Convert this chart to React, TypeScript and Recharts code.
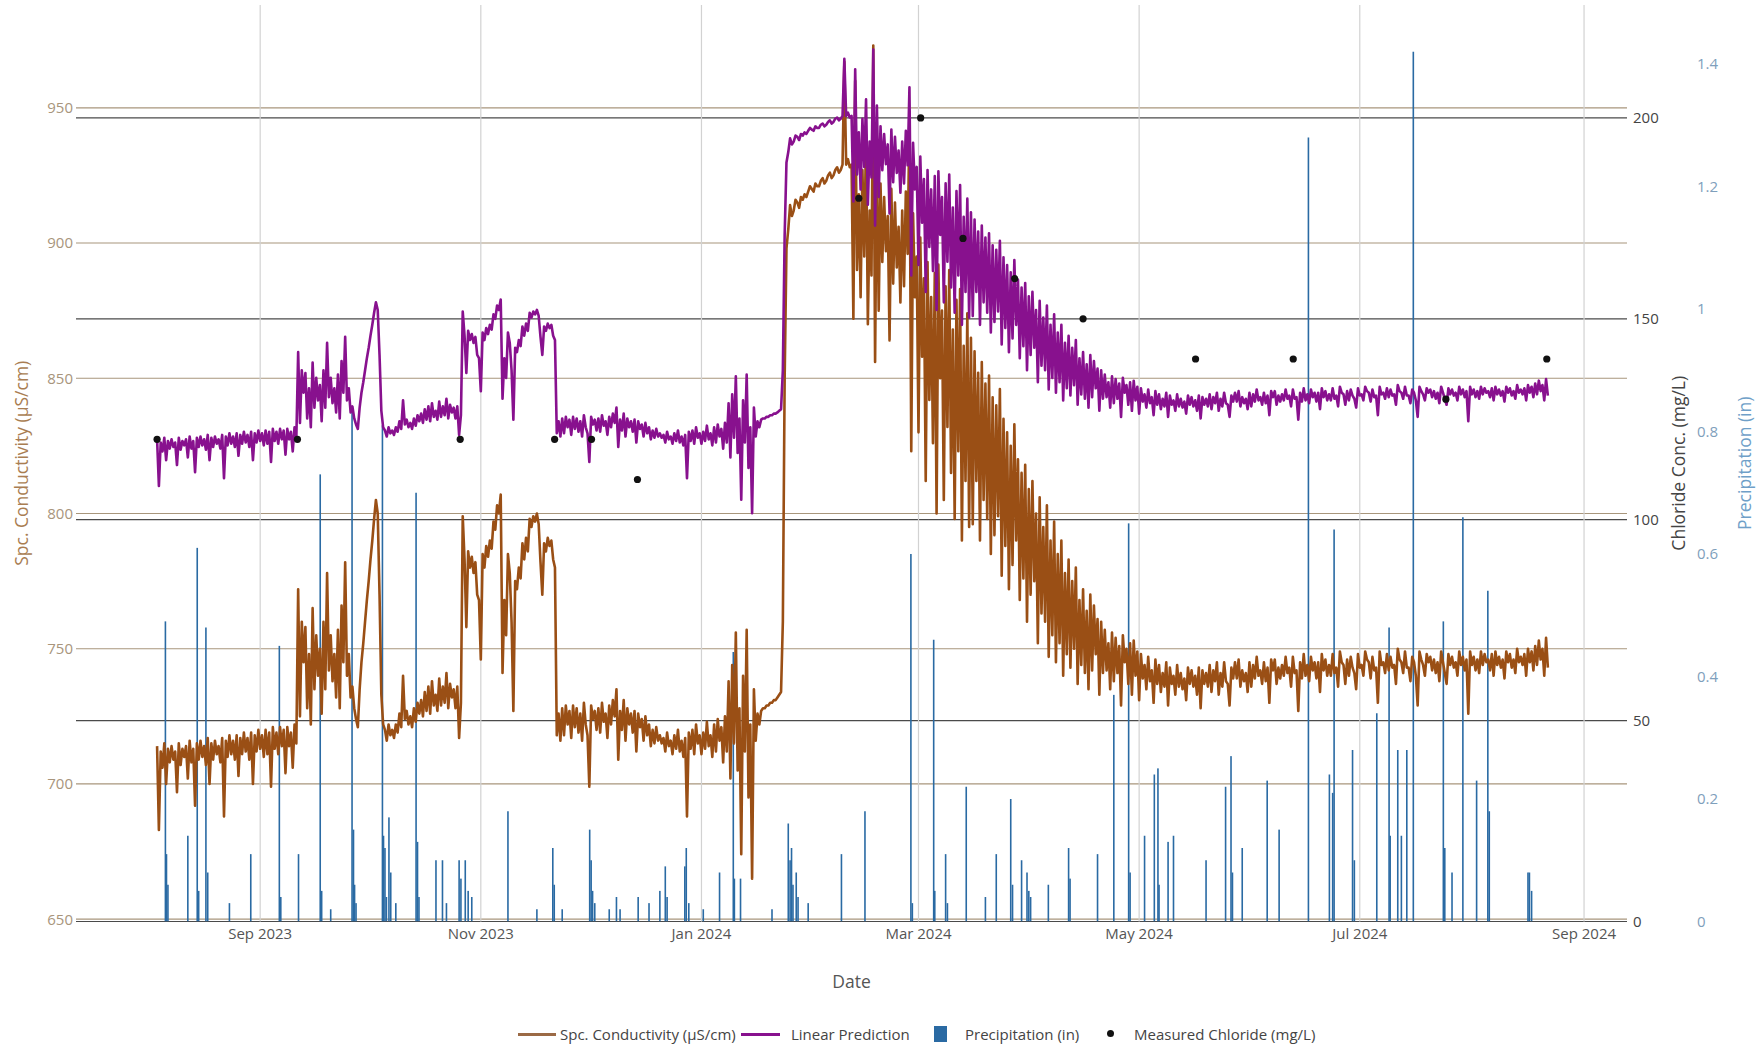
import React from "react";
import {
  Bar,
  CartesianGrid,
  ComposedChart,
  Label,
  Line,
  Scatter,
  XAxis,
  YAxis,
} from "recharts";

const DAY_MS = 24 * 60 * 60 * 1000;
// logger series: two readings a day (daily high, then low), first one at noon on 3 Aug 2023
const seriesStart = Date.UTC(2023, 7, 3, 12);
const readingsPerDay = 2;

// Spc. conductivity (µS/cm)
const conductivity = [
  714, 683, 712, 706, 715, 700, 713, 708, 714, 709, 712, 697, 715, 707, 713, 710, 714, 702, 716, 708,
  713, 692, 715, 709, 716, 710, 714, 707, 717, 700, 715, 709, 716, 711, 714, 708, 717, 688, 716, 710,
  718, 711, 716, 709, 718, 703, 717, 711, 719, 712, 717, 709, 719, 700, 718, 712, 720, 713, 718, 710,
  720, 711, 719, 699, 721, 713, 719, 711, 721, 714, 720, 704, 721, 714, 719, 706, 722, 715, 772, 725,
  760, 745, 758, 728, 748, 722, 765, 735, 755, 740, 750, 726, 760, 735, 778, 742, 755, 738, 748, 732,
  757, 728, 766, 745, 782, 740, 748, 732, 736, 728, 724, 721, 735, 745, 752, 760, 768, 775, 783, 790,
  798, 805, 800, 770, 733, 722, 720, 716, 722, 718, 720, 717, 722, 719, 726, 721, 740, 724, 727, 722,
  725, 721, 728, 723, 730, 726, 731, 725, 734, 727, 736, 726, 738, 729, 733, 727, 739, 729, 736, 730,
  741, 728, 737, 732, 735, 728, 736, 717, 730, 799, 783, 758, 786, 780, 784, 778, 782, 770, 768, 746,
  785, 780, 788, 784, 790, 787, 797, 794, 803, 800, 807, 741, 768, 755, 785, 778, 760, 727, 775, 772,
  780, 776, 789, 783, 791, 786, 798, 795, 799, 797, 800, 796, 782, 770, 789, 786, 791, 788, 790, 783,
  780, 718, 726, 716, 728, 718, 729, 722, 727, 717, 729, 721, 728, 719, 726, 716, 730, 722, 718, 699,
  729, 724, 727, 720, 728, 719, 730, 723, 726, 717, 729, 722, 731, 725, 735, 709, 727, 720, 731, 716,
  728, 722, 726, 719, 727, 712, 726, 721, 724, 716, 725, 718, 722, 714, 720, 715, 721, 716, 718, 715,
  717, 712, 719, 714, 716, 711, 718, 713, 720, 712, 716, 710, 717, 688, 719, 713, 720, 711, 722, 715,
  718, 711, 719, 713, 723, 714, 718, 710, 722, 712, 724, 716, 721, 708, 725, 712, 738, 702, 744, 715,
  756, 705, 728, 674, 740, 712, 757, 695, 722, 665, 735, 716, 726, 722, 727, 728, 728, 729, 729, 730,
  730, 731, 731, 732, 733, 734, 760, 850, 898, 905, 914, 910, 912, 916, 915, 913, 917, 916, 918, 917,
  919, 921, 920, 919, 922, 921, 921, 923, 924, 922, 923, 925, 926, 924, 925, 927, 928, 926, 927, 929,
  967, 929, 931, 928, 929, 872, 960, 890, 918, 880, 927, 895, 940, 870, 912, 888, 973, 856, 936, 875,
  922, 893, 917, 897, 910, 864, 920, 885, 915, 891, 906, 878, 912, 884, 919, 896, 948, 823, 911, 880,
  895, 830, 902, 858, 887, 812, 893, 842, 880, 826, 889, 800, 892, 850, 875, 805, 884, 832, 890, 815,
  868, 798, 879, 823, 883, 790, 862, 812, 874, 795, 865, 796, 860, 812, 852, 790, 856, 805, 848, 798,
  851, 785, 843, 792, 840, 799, 846, 777, 835, 788, 830, 772, 825, 781, 833, 790, 820, 768, 815, 776,
  818, 760, 809, 770, 812, 775, 800, 752, 806, 763, 795, 760, 803, 747, 790, 755, 797, 745, 785, 752,
  790, 740, 778, 748, 783, 743, 775, 750, 780, 737, 768, 744, 772, 741, 764, 735, 770, 742, 766, 748,
  761, 733, 760, 741, 757, 742, 752, 735, 756, 738, 754, 741, 751, 729, 755, 745, 750, 737, 752, 733,
  753, 740, 749, 731, 748, 739, 744, 735, 747, 738, 742, 730, 746, 737, 744, 734, 741, 736, 745, 729,
  743, 737, 740, 733, 744, 736, 741, 735, 739, 731, 743, 737, 742, 736, 740, 733, 743, 728, 742, 737,
  741, 736, 744, 734, 742, 738, 745, 733, 741, 736, 745, 738, 737, 729, 743, 739, 745, 739, 746, 736,
  742, 738, 741, 734, 745, 736, 744, 739, 747, 740, 742, 737, 745, 738, 743, 730, 746, 742, 746, 737,
  743, 739, 744, 740, 747, 741, 743, 736, 747, 741, 742, 727, 745, 739, 748, 740, 744, 738, 747, 742,
  745, 739, 745, 734, 748, 742, 746, 740, 744, 740, 748, 741, 743, 736, 749, 745, 744, 737, 746, 740,
  747, 743, 741, 735, 748, 743, 744, 740, 749, 746, 745, 739, 747, 742, 743, 730, 749, 744, 745, 741,
  748, 742, 747, 743, 744, 737, 750, 746, 745, 741, 749, 743, 743, 738, 747, 745, 740, 729, 749, 746,
  744, 740, 748, 745, 747, 742, 746, 741, 745, 738, 749, 745, 741, 737, 748, 744, 747, 743, 745, 740,
  749, 744, 747, 742, 746, 726, 749, 744, 747, 742, 746, 741, 749, 744, 748, 745, 746, 742, 748, 740,
  749, 744, 747, 743, 746, 739, 749, 745, 748, 743, 746, 741, 750, 745, 747, 744, 748, 740, 750, 745,
  749, 742, 751, 744, 753, 746, 750, 740, 754, 743,
];

// Linear prediction of chloride (mg/L)
const linearPrediction = [
  120.0, 108.4, 119.2, 117.0, 120.4, 114.8, 119.6, 117.7, 120.0, 118.1, 119.2, 113.6, 120.4, 117.4, 119.6, 118.5, 120.0, 115.5, 120.7, 117.7,
  119.6, 111.8, 120.4, 118.1, 120.7, 118.5, 120.0, 117.4, 121.1, 114.8, 120.4, 118.1, 120.7, 118.9, 120.0, 117.7, 121.1, 110.3, 120.7, 118.5,
  121.5, 118.9, 120.7, 118.1, 121.5, 115.9, 121.1, 118.9, 121.9, 119.2, 121.1, 118.1, 121.9, 114.8, 121.5, 119.2, 122.2, 119.6, 121.5, 118.5,
  122.2, 118.9, 121.9, 114.4, 122.6, 119.6, 121.9, 118.9, 122.6, 120.0, 122.2, 116.2, 122.6, 120.0, 121.9, 117.0, 123.0, 120.4, 141.7, 124.1,
  137.2, 131.6, 136.5, 125.2, 132.7, 123.0, 139.1, 127.9, 135.3, 129.7, 133.5, 124.5, 137.2, 127.9, 144.0, 130.5, 135.3, 129.0, 132.7, 126.7,
  136.1, 125.2, 139.5, 131.6, 145.5, 129.7, 132.7, 126.7, 128.2, 125.2, 123.7, 122.6, 127.9, 131.6, 134.2, 137.2, 140.2, 142.8, 145.8, 148.5,
  151.5, 154.1, 152.2, 141.0, 127.1, 123.0, 122.2, 120.7, 123.0, 121.5, 122.2, 121.1, 123.0, 121.9, 124.5, 122.6, 129.7, 123.7, 124.9, 123.0,
  124.1, 122.6, 125.2, 123.4, 126.0, 124.5, 126.4, 124.1, 127.5, 124.9, 128.2, 124.5, 129.0, 125.6, 127.1, 124.9, 129.4, 125.6, 128.2, 126.0,
  130.1, 125.2, 128.6, 126.7, 127.9, 125.2, 128.2, 121.1, 126.0, 151.8, 145.8, 136.5, 147.0, 144.7, 146.2, 144.0, 145.5, 141.0, 140.2, 132.0,
  146.6, 144.7, 147.7, 146.2, 148.5, 147.3, 151.1, 150.0, 153.3, 152.2, 154.8, 130.1, 140.2, 135.3, 146.6, 144.0, 137.2, 124.9, 142.8, 141.7,
  144.7, 143.2, 148.1, 145.8, 148.8, 147.0, 151.5, 150.3, 151.8, 151.1, 152.2, 150.7, 145.5, 141.0, 148.1, 147.0, 148.8, 147.7, 148.5, 145.8,
  144.7, 121.5, 124.5, 120.7, 125.2, 121.5, 125.6, 123.0, 124.9, 121.1, 125.6, 122.6, 125.2, 121.9, 124.5, 120.7, 126.0, 123.0, 121.5, 114.4,
  125.6, 123.7, 124.9, 122.2, 125.2, 121.9, 126.0, 123.4, 124.5, 121.1, 125.6, 123.0, 126.4, 124.1, 127.9, 118.1, 124.9, 122.2, 126.4, 120.7,
  125.2, 123.0, 124.5, 121.9, 124.9, 119.2, 124.5, 122.6, 123.7, 120.7, 124.1, 121.5, 123.0, 120.0, 122.2, 120.4, 122.6, 120.7, 121.5, 120.4,
  121.1, 119.2, 121.9, 120.0, 120.7, 118.9, 121.5, 119.6, 122.2, 119.2, 120.7, 118.5, 121.1, 110.3, 121.9, 119.6, 122.2, 118.9, 123.0, 120.4,
  121.5, 118.9, 121.9, 119.6, 123.4, 120.0, 121.5, 118.5, 123.0, 119.2, 123.7, 120.7, 122.6, 117.7, 124.1, 119.2, 129.0, 115.5, 131.2, 120.4,
  135.7, 116.6, 125.2, 105.0, 129.7, 119.2, 136.1, 112.9, 123.0, 101.6, 127.9, 120.7, 124.5, 123.0, 124.9, 125.2, 125.2, 125.6, 125.6, 126.0,
  126.0, 126.4, 126.4, 126.7, 127.1, 127.5, 137.2, 170.9, 188.9, 191.5, 194.9, 193.4, 194.1, 195.6, 195.3, 194.5, 196.0, 195.6, 196.4, 196.0,
  196.8, 197.5, 197.1, 196.8, 197.9, 197.5, 197.5, 198.3, 198.6, 197.9, 198.3, 199.0, 199.4, 198.6, 199.0, 199.8, 200.1, 199.4, 199.8, 200.5,
  214.7, 200.5, 201.3, 200.1, 200.5, 179.2, 212.1, 185.9, 196.4, 182.2, 199.8, 187.8, 204.6, 178.4, 194.1, 185.2, 217.0, 173.2, 203.1, 180.3,
  197.9, 187.0, 196.0, 188.5, 193.4, 176.2, 197.1, 184.0, 195.3, 186.3, 191.9, 181.4, 194.1, 183.7, 196.8, 188.2, 207.6, 160.8, 193.8, 182.2,
  187.8, 163.4, 190.4, 173.9, 184.8, 156.7, 187.0, 167.9, 182.2, 161.9, 185.5, 152.2, 186.7, 170.9, 180.3, 154.1, 183.7, 164.2, 185.9, 157.8,
  177.7, 151.5, 181.8, 160.8, 183.3, 148.5, 175.4, 156.7, 179.9, 150.3, 176.5, 150.7, 174.7, 156.7, 171.7, 148.5, 173.2, 154.1, 170.2, 151.5,
  171.3, 146.6, 168.3, 149.2, 167.2, 151.8, 169.4, 143.6, 165.3, 147.7, 163.4, 141.7, 161.6, 145.1, 164.6, 148.5, 159.7, 140.2, 157.8, 143.2,
  158.9, 137.2, 155.6, 141.0, 156.7, 142.8, 152.2, 134.2, 154.5, 138.3, 150.3, 137.2, 153.3, 132.4, 148.5, 135.3, 151.1, 131.6, 146.6, 134.2,
  148.5, 129.7, 144.0, 132.7, 145.8, 130.9, 142.8, 133.5, 144.7, 128.6, 140.2, 131.2, 141.7, 130.1, 138.7, 127.9, 141.0, 130.5, 139.5, 132.7,
  137.6, 127.1, 137.2, 130.1, 136.1, 130.5, 134.2, 127.9, 135.7, 129.0, 135.0, 130.1, 133.9, 125.6, 135.3, 131.6, 133.5, 128.6, 134.2, 127.1,
  134.6, 129.7, 133.1, 126.4, 132.7, 129.4, 131.2, 127.9, 132.4, 129.0, 130.5, 126.0, 132.0, 128.6, 131.2, 127.5, 130.1, 128.2, 131.6, 125.6,
  130.9, 128.6, 129.7, 127.1, 131.2, 128.2, 130.1, 127.9, 129.4, 126.4, 130.9, 128.6, 130.5, 128.2, 129.7, 127.1, 130.9, 125.2, 130.5, 128.6,
  130.1, 128.2, 131.2, 127.5, 130.5, 129.0, 131.6, 127.1, 130.1, 128.2, 131.6, 129.0, 128.6, 125.6, 130.9, 129.4, 131.6, 129.4, 132.0, 128.2,
  130.5, 129.0, 130.1, 127.5, 131.6, 128.2, 131.2, 129.4, 132.4, 129.7, 130.5, 128.6, 131.6, 129.0, 130.9, 126.0, 132.0, 130.5, 132.0, 128.6,
  130.9, 129.4, 131.2, 129.7, 132.4, 130.1, 130.9, 128.2, 132.4, 130.1, 130.5, 124.9, 131.6, 129.4, 132.7, 129.7, 131.2, 129.0, 132.4, 130.5,
  131.6, 129.4, 131.6, 127.5, 132.7, 130.5, 132.0, 129.7, 131.2, 129.7, 132.7, 130.1, 130.9, 128.2, 133.1, 131.6, 131.2, 128.6, 132.0, 129.7,
  132.4, 130.9, 130.1, 127.9, 132.7, 130.9, 131.2, 129.7, 133.1, 132.0, 131.6, 129.4, 132.4, 130.5, 130.9, 126.0, 133.1, 131.2, 131.6, 130.1,
  132.7, 130.5, 132.4, 130.9, 131.2, 128.6, 133.5, 132.0, 131.6, 130.1, 133.1, 130.9, 130.9, 129.0, 132.4, 131.6, 129.7, 125.6, 133.1, 132.0,
  131.2, 129.7, 132.7, 131.6, 132.4, 130.5, 132.0, 130.1, 131.6, 129.0, 133.1, 131.6, 130.1, 128.6, 132.7, 131.2, 132.4, 130.9, 131.6, 129.7,
  133.1, 131.2, 132.4, 130.5, 132.0, 124.5, 133.1, 131.2, 132.4, 130.5, 132.0, 130.1, 133.1, 131.2, 132.7, 131.6, 132.0, 130.5, 132.7, 129.7,
  133.1, 131.2, 132.4, 130.9, 132.0, 129.4, 133.1, 131.6, 132.7, 130.9, 132.0, 130.1, 133.5, 131.6, 132.4, 131.2, 132.7, 129.7, 133.5, 131.6,
  133.1, 130.5, 133.9, 131.2, 134.6, 132.0, 133.5, 129.7, 135.0, 130.9,
];

// lab samples: days after series start, chloride (mg/L)
const chlorideDay = [0, 38.8, 83.8, 109.9, 120.1, 132.8, 194, 211.1, 222.8, 237.1, 256, 287.1, 314.1, 356.3, 384.2];
const measuredChloride = [120, 120, 120, 120, 120, 110, 180, 200, 170, 160, 150, 140, 140, 130, 140];

// rainfall events: days after series start, inches
const precipDay = [
  2.3, 2.6, 3.0, 8.5, 11.1, 11.5, 13.5, 14.0, 20.0, 25.9, 33.8, 34.2, 39.1, 45.1, 45.5, 48.0, 53.9, 54.3, 54.6, 55.0,
  62.3, 62.6, 63.0, 63.4, 64.1, 64.6, 66.0, 71.6, 72.0, 72.4, 77.1, 78.9, 80.0, 83.5, 84.0, 85.2, 86.0, 87.0, 97.0, 105.0,
  109.4, 109.8, 112.0, 119.6, 120.0, 120.4, 121.0, 125.0, 127.0, 128.0, 133.0, 136.0, 139.0, 140.5, 141.0, 145.9, 146.3, 147.0, 151.0, 155.5,
  159.3, 159.6, 161.3, 170.0, 174.5, 175.0, 175.4, 175.8, 176.7, 177.2, 180.0, 189.2, 195.7, 208.4, 208.8, 214.7, 215.0, 218.0, 218.5, 223.7,
  229.0, 232.0, 236.0, 236.5, 239.0, 240.5, 241.0, 241.5, 246.4, 252.0, 252.4, 260.0, 264.5, 268.6, 269.0, 273.0, 275.7, 276.7, 277.0, 279.5,
  281.0, 290.0, 295.4, 296.9, 297.3, 300.0, 306.9, 310.2, 318.3, 324.1, 325.0, 325.4, 330.5, 331.0, 337.2, 340.6, 340.9, 343.0, 344.0, 345.5,
  347.3, 355.6, 356.0, 358.0, 361.0, 364.8, 367.9, 368.3, 379.0, 379.4, 380.0,
];
const precipInches = [
  0.49, 0.11, 0.06, 0.14, 0.61, 0.05, 0.48, 0.08, 0.03, 0.11, 0.45, 0.04, 0.11, 0.73, 0.05, 0.02, 0.84, 0.15, 0.06, 0.03,
  0.81, 0.14, 0.12, 0.04, 0.17, 0.08, 0.03, 0.70, 0.13, 0.04, 0.10, 0.10, 0.03, 0.10, 0.07, 0.10, 0.05, 0.04, 0.18, 0.02,
  0.12, 0.06, 0.02, 0.15, 0.10, 0.05, 0.03, 0.02, 0.04, 0.02, 0.04, 0.03, 0.05, 0.09, 0.04, 0.09, 0.12, 0.03, 0.02, 0.08,
  0.44, 0.07, 0.07, 0.02, 0.16, 0.10, 0.12, 0.06, 0.08, 0.04, 0.03, 0.11, 0.18, 0.60, 0.03, 0.46, 0.05, 0.11, 0.03, 0.22,
  0.04, 0.11, 0.20, 0.06, 0.10, 0.08, 0.05, 0.04, 0.06, 0.12, 0.07, 0.11, 0.37, 0.65, 0.08, 0.14, 0.24, 0.25, 0.06, 0.13,
  0.14, 0.10, 0.22, 0.27, 0.08, 0.12, 0.23, 0.15, 1.28, 0.24, 0.21, 0.64, 0.28, 0.10, 0.34, 0.48, 0.14, 0.28, 0.14, 0.28,
  1.42, 0.49, 0.12, 0.08, 0.66, 0.23, 0.54, 0.18, 0.08, 0.08, 0.05,
];

const monthTickDates = ["2023-09-01", "2023-11-01", "2024-01-01", "2024-03-01", "2024-05-01", "2024-07-01", "2024-09-01"];
const monthTickLabels = ["Sep 2023", "Nov 2023", "Jan 2024", "Mar 2024", "May 2024", "Jul 2024", "Sep 2024"];
const conductivityTicks = [650, 700, 750, 800, 850, 900, 950];
const chlorideTicks = [0, 50, 100, 150, 200];
const precipTicks = [0, 0.2, 0.4, 0.6, 0.8, 1, 1.2, 1.4];

const toTime = (day: number) => seriesStart + day * DAY_MS;

const condRows = conductivity.map((v, i) => ({ t: toTime(i / readingsPerDay), v }));
const predRows = linearPrediction.map((v, i) => ({ t: toTime(i / readingsPerDay), v }));
const chlorideRows = chlorideDay.map((d, i) => ({ t: toTime(d), v: measuredChloride[i] }));
const precipRows = precipDay.map((d, i) => ({ t: toTime(d), p: precipInches[i] }));
const monthTicks = monthTickDates.map((s) => Date.parse(s + "T00:00:00Z"));

const xDomain = [Date.UTC(2023, 6, 12, 2), Date.UTC(2024, 8, 12, 21)];

const BROWN = "#9a4f15";
const PURPLE = "#88118e";
const BLUE = "#2a6aa3";
const FONT = "'Open Sans', sans-serif";

const blackDot = (props: any) => <circle cx={props.cx} cy={props.cy} r={3.6} fill="#111" />;

// thin precipitation bar centred on its timestamp
const rainBar = (props: any) => {
  if (!props.height) return <g />;
  return <rect x={props.x + props.width / 2 - 0.8} y={props.y} width={1.6} height={props.height} fill={BLUE} />;
};

function LegendRow() {
  const text: React.CSSProperties = { position: "absolute", top: 1024, fontSize: 15, color: "#444", whiteSpace: "nowrap", lineHeight: "20px" };
  return (
    <>
      <div style={{ position: "absolute", left: 518, top: 1033, width: 38, height: 3, background: "#9b6a45" }} />
      <div style={{ ...text, left: 560 }}>Spc. Conductivity (µS/cm)</div>
      <div style={{ position: "absolute", left: 741, top: 1033, width: 39, height: 3, background: PURPLE }} />
      <div style={{ ...text, left: 791 }}>Linear Prediction</div>
      <div style={{ position: "absolute", left: 934, top: 1026, width: 13, height: 16, background: BLUE }} />
      <div style={{ ...text, left: 965 }}>Precipitation (in)</div>
      <div style={{ position: "absolute", left: 1107, top: 1030, width: 7, height: 7, borderRadius: 4, background: "#111" }} />
      <div style={{ ...text, left: 1134 }}>Measured Chloride (mg/L)</div>
    </>
  );
}

export default function App() {
  return (
    <div style={{ position: "absolute", left: 0, top: 0, width: 1760, height: 1047, background: "#fff", fontFamily: FONT }}>
      <ComposedChart width={1760} height={1047} data={precipRows} margin={{ top: 5, right: 0, bottom: 0, left: 0 }}>
        <CartesianGrid yAxisId="cond" vertical={false} syncWithTicks stroke="#a8967c" strokeWidth={1.2} />
        <CartesianGrid yAxisId="chl" vertical={false} syncWithTicks stroke="#4a4a4a" strokeWidth={1.2} />
        <CartesianGrid yAxisId="chl" horizontal={false} syncWithTicks stroke="#d2d2d2" strokeWidth={1.2} />
        <XAxis
          dataKey="t"
          type="number"
          domain={xDomain}
          allowDataOverflow
          ticks={monthTicks}
          interval={0}
          tickFormatter={(t: number) => monthTickLabels[monthTicks.indexOf(t)]}
          axisLine={false}
          tickLine={false}
          tickSize={0}
          tickMargin={7}
          height={125.5}
          tick={{ fill: "#555", fontSize: 15, fontFamily: FONT }}
        >
          <Label value="Date" position="insideBottom" offset={59} fill="#555" fontSize={17.5} fontFamily={FONT} />
        </XAxis>
        <YAxis
          yAxisId="cond"
          orientation="left"
          type="number"
          width={76}
          domain={[649.15, 988]}
          allowDataOverflow
          ticks={conductivityTicks}
          interval={0}
          axisLine={false}
          tickLine={false}
          tickSize={0}
          tickMargin={3}
          tick={{ fill: "#a8957c", fontSize: 15, fontFamily: FONT }}
        >
          <Label
            value="Spc. Conductivity (µS/cm)"
            angle={-90}
            position="insideLeft"
            offset={22}
            style={{ textAnchor: "middle" }}
            fill="#a97d52"
            fontSize={17.5}
            fontFamily={FONT}
          />
        </YAxis>
        <YAxis
          yAxisId="chl"
          orientation="right"
          type="number"
          width={58}
          domain={[0, 228.1]}
          allowDataOverflow
          ticks={chlorideTicks}
          interval={0}
          axisLine={false}
          tickLine={false}
          tickSize={0}
          tickMargin={6}
          tick={{ fill: "#444", fontSize: 15, fontFamily: FONT }}
        >
          <Label
            value="Chloride Conc. (mg/L)"
            angle={-90}
            position="insideRight"
            offset={6}
            style={{ textAnchor: "middle" }}
            fill="#444"
            fontSize={17.5}
            fontFamily={FONT}
          />
        </YAxis>
        <YAxis
          yAxisId="precip"
          orientation="right"
          type="number"
          width={75}
          domain={[0, 1.4963]}
          allowDataOverflow
          ticks={precipTicks}
          interval={0}
          axisLine={false}
          tickLine={false}
          tickSize={0}
          tickMargin={12}
          tick={{ fill: "#7f9fbc", fontSize: 15, fontFamily: FONT }}
        >
          <Label
            value="Precipitation (in)"
            angle={-90}
            position="insideRight"
            offset={15}
            style={{ textAnchor: "middle" }}
            fill="#6f9fc8"
            fontSize={17.5}
            fontFamily={FONT}
          />
        </YAxis>
        <Line
          yAxisId="cond"
          data={condRows}
          dataKey="v"
          type="linear"
          stroke={BROWN}
          strokeWidth={2.6}
          strokeLinejoin="round"
          dot={false}
          activeDot={false}
          isAnimationActive={false}
        />
        <Line
          yAxisId="chl"
          data={predRows}
          dataKey="v"
          type="linear"
          stroke={PURPLE}
          strokeWidth={2.6}
          strokeLinejoin="round"
          dot={false}
          activeDot={false}
          isAnimationActive={false}
        />
        <Bar yAxisId="precip" dataKey="p" fill={BLUE} shape={rainBar} isAnimationActive={false} />
        <Scatter yAxisId="chl" data={chlorideRows} dataKey="v" shape={blackDot} isAnimationActive={false} />
      </ComposedChart>
      <LegendRow />
    </div>
  );
}
